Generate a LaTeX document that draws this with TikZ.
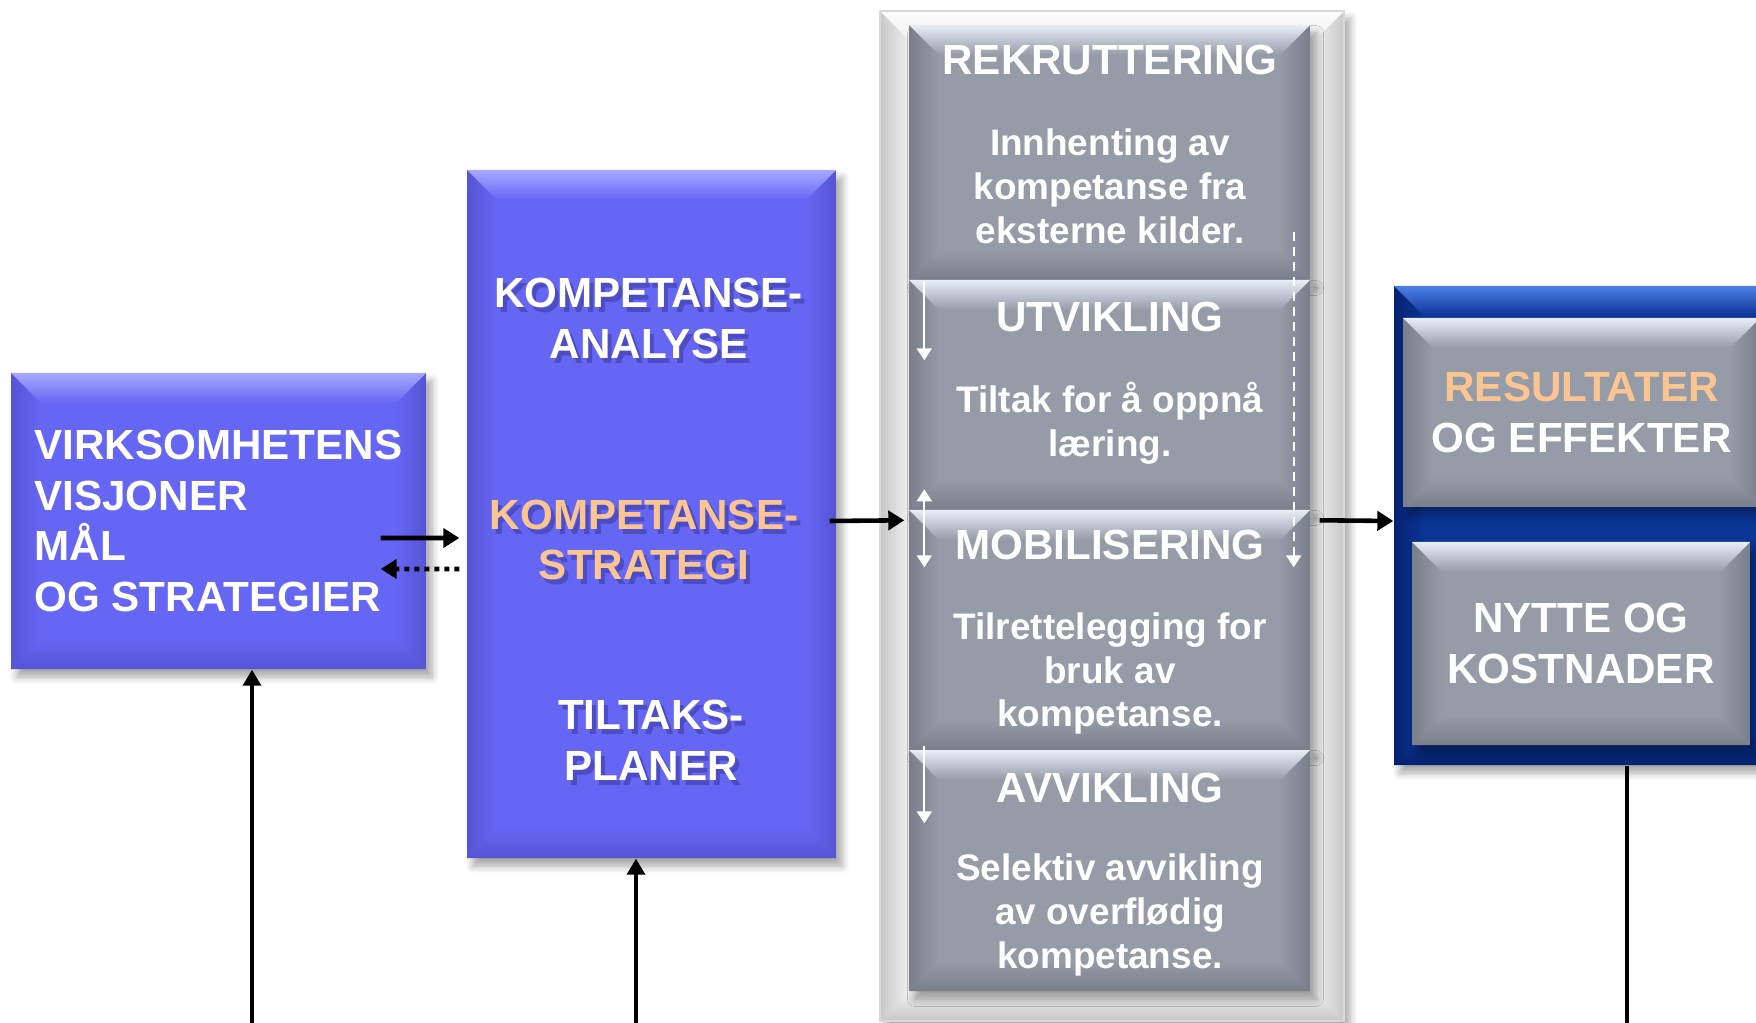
\documentclass[tikz,border=0pt]{standalone}
\usepackage{fontspec}
\setmainfont{Liberation Sans}
\usetikzlibrary{arrows.meta,calc,shadows.blur}

\definecolor{blubase}{RGB}{102,102,245}
\definecolor{blutop}{RGB}{168,168,255}
\definecolor{bluside}{RGB}{84,84,212}
\definecolor{grybase}{RGB}{149,155,167}
\definecolor{grytop}{RGB}{230,238,248}
\definecolor{gryside}{RGB}{120,126,138}
\definecolor{navbase}{RGB}{10,52,150}
\definecolor{navtop}{RGB}{78,128,232}
\definecolor{navside}{RGB}{6,34,112}
\definecolor{pnlbase}{RGB}{241,241,241}
\definecolor{pnltop}{RGB}{252,252,252}
\definecolor{pnlside}{RGB}{200,200,200}
\definecolor{orng}{RGB}{250,197,145}
\definecolor{txtsh}{RGB}{40,40,120}

\newcommand\bvd{3mm}
\newcommand\hdfont{\bfseries\fontsize{12}{14.5}\selectfont}
\newcommand\bdfont{\bfseries\fontsize{10.5}{12.5}\selectfont}

\tikzset{
  bevel/.style n args={4}{fill=#1, path picture={
    \coordinate (nw) at (path picture bounding box.north west);
    \coordinate (ne) at (path picture bounding box.north east);
    \coordinate (sw) at (path picture bounding box.south west);
    \coordinate (se) at (path picture bounding box.south east);
    \shade[left color=#3, right color=#1] (nw) -- ($(nw)+(\bvd,-\bvd)$) -- ($(sw)+(\bvd,\bvd)$) -- (sw) -- cycle;
    \shade[left color=#1, right color=#3] (ne) -- ($(ne)+(-\bvd,-\bvd)$) -- ($(se)+(-\bvd,\bvd)$) -- (se) -- cycle;
    \shade[top color=#1, bottom color=#4] (sw) -- ($(sw)+(\bvd,\bvd)$) -- ($(se)+(-\bvd,\bvd)$) -- (se) -- cycle;
    \shade[top color=#2, bottom color=#1] (nw) -- (ne) -- ($(ne)+(-\bvd,-\bvd)$) -- ($(nw)+(\bvd,-\bvd)$) -- cycle;
  }},
  boxshadow/.style={blur shadow={shadow xshift=0.6mm, shadow yshift=-0.8mm, shadow opacity=35, shadow blur steps=6}},
  bluebox/.style={bevel={blubase}{blutop}{bluside}{bluside}, boxshadow, text=white, font=\hdfont},
  grybox/.style={bevel={grybase}{grytop}{gryside}{gryside}, boxshadow, text=white, font=\hdfont},
  navbox/.style={bevel={navbase}{navtop}{navside}{navside}, boxshadow},
  pnlbox/.style={bevel={pnlbase}{pnltop}{pnlside}{pnlside}, draw=pnlside!70, boxshadow},
  hd/.style={text=white, font=\hdfont, align=center, inner sep=0pt},
  hdsh/.style={hd, text=txtsh, opacity=0.4},
  bd/.style={text=white, font=\bdfont, align=center, inner sep=0pt},
  arr/.style={-{Triangle[length=1.6mm,width=1.9mm]}, line width=1.3pt, black},
  varr/.style={-{Triangle[length=1.6mm,width=1.8mm]}, line width=1pt, black},
  warr/.style={-{Triangle[length=1.2mm,width=1.5mm]}, line width=0.6pt, white},
  wdarr/.style={{Triangle[length=1.2mm,width=1.5mm]}-{Triangle[length=1.2mm,width=1.5mm]}, line width=0.6pt, white},
}

\begin{document}
\begin{tikzpicture}
\useasboundingbox (0,0) rectangle (17.56,-10.23);
\clip (0,0) rectangle (17.56,-10.23);
\coordinate (bot) at (0,-10.23);

\node[pnlbox, minimum width=4.64cm, minimum height=10.10cm] (pnl) at (11.12,-5.16) {};

\node[bluebox, minimum width=4.15cm, minimum height=2.96cm, align=left] (vis) at (2.185,-5.21) {VIRKSOMHETENS\\VISJONER\\MÅL\\OG STRATEGIER};

\node[bluebox, minimum width=3.69cm, minimum height=6.88cm] (komp) at (6.515,-5.14) {};
\node[hdsh] (kanas) at (6.525,-3.235) {KOMPETANSE-\\ANALYSE};
\node[hdsh] (kstrs) at (6.48,-5.45) {KOMPETANSE-\\STRATEGI};
\node[hdsh] (ktils) at (6.55,-7.45) {TILTAKS-\\PLANER};
\node[hd] (kana) at (6.485,-3.185) {KOMPETANSE-\\ANALYSE};
\node[hd, text=orng] (kstr) at (6.44,-5.40) {KOMPETANSE-\\STRATEGI};
\node[hd] (ktil) at (6.51,-7.40) {TILTAKS-\\PLANER};

\node[grybox, minimum width=4.01cm, minimum height=2.55cm] (rek) at (11.095,-1.525) {};
\node[grybox, minimum width=4.01cm, minimum height=2.30cm] (utv) at (11.095,-3.95) {};
\node[grybox, minimum width=4.01cm, minimum height=2.40cm] (mob) at (11.095,-6.30) {};
\node[grybox, minimum width=4.01cm, minimum height=2.41cm] (avv) at (11.095,-8.705) {};
\node[hd, anchor=base] (rekh) at (11.10,-0.75) {REKRUTTERING};
\node[bd] (rekt) at (11.10,-1.865) {Innhenting av\\kompetanse fra\\eksterne kilder.};
\node[hd, anchor=base] (utvh) at (11.10,-3.32) {UTVIKLING};
\node[bd] (utvt) at (11.10,-4.235) {Tiltak for å oppnå\\læring.};
\node[hd, anchor=base] (mobh) at (11.10,-5.60) {MOBILISERING};
\node[bd] (mobt) at (11.10,-6.735) {Tilrettelegging for\\bruk av\\kompetanse.};
\node[hd, anchor=base] (avvh) at (11.10,-8.02) {AVVIKLING};
\node[bd] (avvt) at (11.10,-9.15) {Selektiv avvikling\\av overflødig\\kompetanse.};

\node[navbox, minimum width=4.06cm, minimum height=4.79cm] (res) at (15.97,-5.255) {};
\node[grybox, minimum width=3.57cm, minimum height=1.89cm, align=center] (resb) at (15.815,-4.125) {\textcolor{orng}{RESULTATER}\\OG EFFEKTER};
\node[grybox, minimum width=3.38cm, minimum height=2.03cm, align=center] (nyt) at (15.81,-6.435) {NYTTE OG\\KOSTNADER};

\draw[arr] ([shift={(-4.6mm,-1.7mm)}]vis.east) -- ([shift={(-0.7mm,-2.4mm)}]komp.west);
\draw[arr, dash pattern=on 0.5mm off 0.5mm] ([shift={(-0.7mm,-5.5mm)}]komp.west) -- ([shift={(-4.6mm,-4.8mm)}]vis.east);
\draw[arr] ([shift={(-0.7mm,-0.7mm)}]komp.east) -- ([shift={(-0.4mm,-1.1mm)}]mob.north west);
\draw[arr] ([shift={(0.9mm,-1.1mm)}]mob.north east) -- ([yshift=0.45mm]res.west);

\coordinate (v1) at ([xshift=3.35mm]vis.south);
\coordinate (v2) at ([xshift=-1.55mm]komp.south);
\coordinate (v3) at ([xshift=3mm]res.south);
\draw[varr] (v1 |- bot) -- (v1);
\draw[varr] (v2 |- bot) -- (v2);
\draw[line width=1pt] (v3) -- (v3 |- bot);

\draw[warr] ([shift={(1.6mm,-0.2mm)}]utv.north west) -- ([shift={(1.6mm,-8.1mm)}]utv.north west);
\draw[wdarr] ([shift={(1.6mm,2mm)}]mob.north west) -- ([shift={(1.6mm,-5.8mm)}]mob.north west);
\draw[warr] ([shift={(1.6mm,0.3mm)}]avv.north west) -- ([shift={(1.6mm,-7.4mm)}]avv.north west);
\draw[warr, dash pattern=on 0.9mm off 0.6mm] ([shift={(-1.7mm,-20.8mm)}]rek.north east) -- ([shift={(-1.7mm,-5.8mm)}]mob.north east);
\end{tikzpicture}
\end{document}
